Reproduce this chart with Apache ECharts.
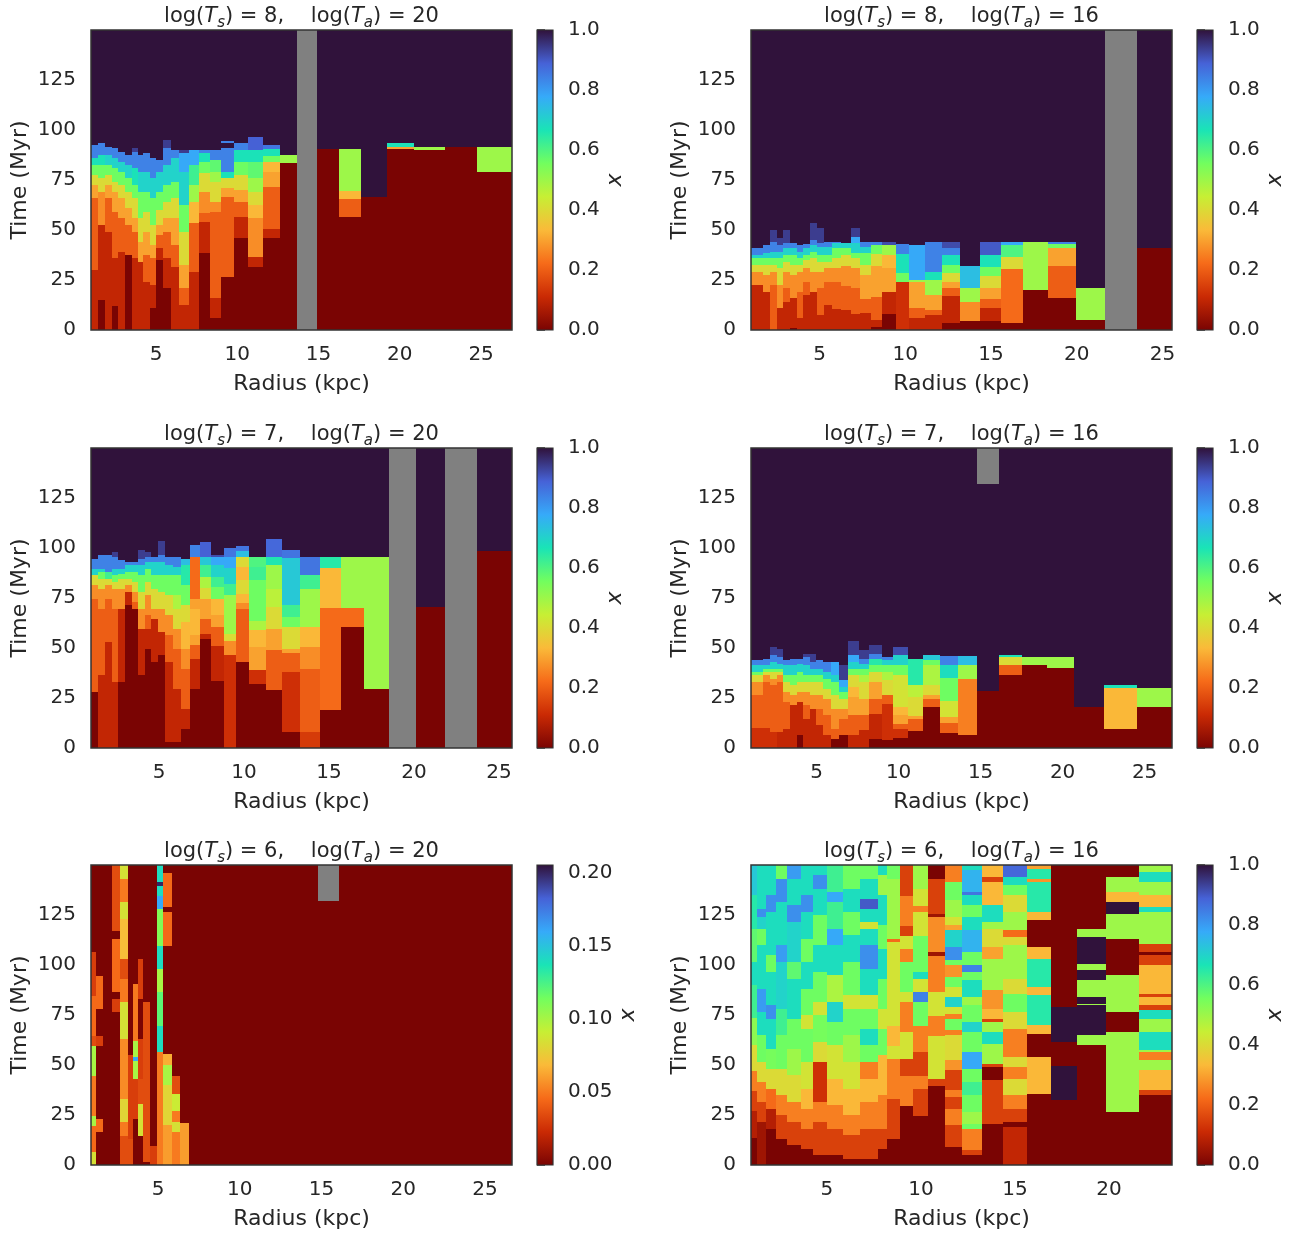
<!DOCTYPE html>
<html>
<head>
<meta charset="utf-8" />
<title>Ionised fraction vs radius and time</title>
<script src="https://cdn.jsdelivr.net/npm/echarts@6/dist/echarts.min.js"></script>
<style>html,body{margin:0;padding:0;background:#fff;}</style>
</head>
<body>
<div id="main" style="width:1297px;height:1237px;"></div>
<script type="text/javascript">
// Each column: [r0, r1, v0, t1, v1, t2, v2, ...]
// v0 holds from t=0 to t1, v1 from t1 to t2 ... last value up to the top. null = no data (grey).

// log(Ts)=8, log(Ta)=20
var colsA = [
  [1.0, 1.45, 0.1, 30, 0.2, 65.8, 0.3, 72.5, 0.4, 77.5, 0.56, 82.5, 0.67, 85.8, 0.84, 92.5, 1],
  [1.45, 1.86, 0, 15, 0.1, 52.5, 0.27, 69.2, 0.4, 75.8, 0.56, 82.5, 0.67, 87.5, 0.84, 93.3, 1],
  [1.86, 2.27, 0.1, 49, 0.2, 65.8, 0.3, 72.5, 0.4, 77.5, 0.56, 82.5, 0.7, 87.5, 0.84, 91.7, 1],
  [2.27, 2.68, 0, 12, 0.1, 35.8, 0.2, 59.2, 0.3, 69.2, 0.4, 74.2, 0.56, 80.8, 0.7, 85.8, 0.84, 90.8, 1],
  [2.68, 3.09, 0.1, 39.2, 0.2, 55.8, 0.3, 65.8, 0.4, 72.5, 0.56, 79.2, 0.7, 84.2, 0.84, 89.2, 1],
  [3.09, 3.5, 0, 37.5, 0.2, 52.5, 0.3, 60.8, 0.4, 69.2, 0.56, 75.8, 0.7, 82.5, 0.84, 87.5, 1],
  [3.5, 3.91, 0.1, 35.8, 0.2, 49.2, 0.3, 55.8, 0.4, 65.8, 0.56, 72.5, 0.67, 80.8, 0.84, 89.2, 0.94, 90.8, 1],
  [3.91, 4.22, 0.1, 34.2, 0.3, 44.2, 0.4, 55.8, 0.56, 69.2, 0.7, 79.2, 0.84, 87.5, 1],
  [4.22, 4.63, 0.1, 24.2, 0.2, 37.5, 0.3, 49.2, 0.4, 59.2, 0.56, 69.2, 0.7, 79.2, 0.84, 88.3, 1],
  [4.63, 4.98, 0, 10.8, 0.1, 22.5, 0.2, 35.8, 0.3, 42.5, 0.4, 52.5, 0.56, 65.8, 0.7, 75.8, 0.84, 85.8, 1],
  [4.98, 5.45, 0, 35, 0.1, 40.8, 0.2, 47.5, 0.3, 52.5, 0.4, 60, 0.56, 69.2, 0.7, 79.2, 0.84, 85, 1],
  [5.45, 5.92, 0, 20.8, 0.1, 35.8, 0.2, 49.2, 0.3, 55.8, 0.4, 64.2, 0.56, 72.5, 0.7, 82.5, 0.84, 90.8, 0.94, 95, 1],
  [5.92, 6.44, 0.1, 31.7, 0.2, 42.5, 0.3, 55.8, 0.4, 65.8, 0.56, 74.2, 0.7, 85.8, 0.84, 90, 1],
  [6.44, 7.05, 0.1, 12.5, 0.2, 20.8, 0.3, 32.5, 0.4, 49.2, 0.56, 62.5, 0.7, 79.2, 0.78, 88.3, 0.94, 90, 1],
  [7.05, 7.67, 0.1, 29.2, 0.2, 53.3, 0.33, 64.2, 0.5, 72.5, 0.62, 82.5, 0.78, 90, 1],
  [7.67, 8.32, 0, 38.3, 0.1, 54.2, 0.2, 58.3, 0.27, 69.2, 0.4, 78.3, 0.56, 84.2, 0.67, 88.3, 0.84, 90, 1],
  [8.32, 9.0, 0, 5.8, 0.1, 15.8, 0.2, 59.2, 0.27, 64.2, 0.4, 74.2, 0.5, 79.2, 0.58, 85, 0.84, 90, 1],
  [9.0, 9.82, 0, 26.7, 0.2, 66.7, 0.3, 70.8, 0.4, 76.2, 0.67, 79.2, 0.84, 90.8, 1, 93.3, 0.84, 94.5, 1],
  [9.82, 10.68, 0, 46.2, 0.1, 56.7, 0.2, 64.2, 0.3, 70, 0.4, 77.5, 0.56, 84.2, 0.67, 90, 0.84, 93.3, 1],
  [10.68, 11.6, 0, 31.3, 0.1, 36.3, 0.27, 55.8, 0.33, 62.5, 0.4, 69.2, 0.5, 75.8, 0.58, 84.2, 0.67, 90, 0.89, 96.7, 1],
  [11.6, 12.63, 0, 45.8, 0.1, 50.5, 0.2, 71.7, 0.3, 79.2, 0.33, 84.2, 0.56, 87.2, 0.67, 90.5, 0.86, 92.5, 1],
  [12.63, 13.7, 0, 83.7, 0.5, 87.5, 1],
  [13.7, 14.91, null],
  [14.91, 16.26, 0, 90.5, 1],
  [16.26, 17.64, 0, 56.7, 0.2, 65.3, 0.33, 69.7, 0.5, 90.5, 1],
  [17.64, 19.22, 0, 66.7, 1],
  [19.22, 20.9, 0, 90.5, 0.3, 91.5, 0.67, 93.7, 1],
  [20.9, 22.8, 0, 89.8, 0.5, 91.5, 1],
  [22.8, 24.77, 0, 91.7, 1],
  [24.77, 26.9, 0, 79, 0.5, 91.7, 1]
];

// log(Ts)=8, log(Ta)=16
var colsB = [
  [1.0, 1.72, 0.1, 22.5, 0.27, 29.2, 0.4, 32.5, 0.56, 35.8, 0.7, 37.5, 0.84, 40.8, 1],
  [1.72, 2.11, 0.1, 19.2, 0.27, 27.5, 0.4, 32.5, 0.56, 35.8, 0.7, 38.3, 0.84, 42.5, 1],
  [2.11, 2.5, 0.2, 22.5, 0.27, 29.2, 0.4, 32.5, 0.56, 35.8, 0.7, 39.2, 0.84, 44.2, 0.94, 50, 1],
  [2.5, 2.89, 0.1, 10.8, 0.27, 22.5, 0.4, 30.8, 0.56, 35.8, 0.7, 39.2, 0.84, 42.5, 0.94, 45.8, 1],
  [2.89, 3.27, 0.1, 14.2, 0.2, 20.8, 0.27, 29.2, 0.4, 34.2, 0.56, 37.5, 0.7, 40.8, 0.84, 43.3, 0.94, 50, 1],
  [3.27, 3.66, 0, 0.8, 0.1, 15.8, 0.27, 27.5, 0.4, 32.5, 0.56, 37.5, 0.7, 40.8, 0.84, 43.3, 1],
  [3.66, 4.05, 0.1, 5.8, 0.2, 19.2, 0.27, 29.2, 0.4, 32.5, 0.56, 35.8, 0.7, 39.2, 0.84, 42.5, 1],
  [4.05, 4.44, 0.1, 17.5, 0.2, 24.2, 0.27, 30.8, 0.4, 35, 0.56, 37.5, 0.7, 40.8, 0.84, 42.8, 1],
  [4.44, 4.83, 0.1, 19.2, 0.27, 29.2, 0.4, 35.8, 0.56, 39.2, 0.7, 42.5, 0.84, 45, 0.94, 53.3, 1],
  [4.83, 5.28, 0.1, 7.5, 0.2, 20.8, 0.27, 29.2, 0.4, 34.2, 0.56, 37.5, 0.7, 41.7, 0.84, 43.3, 0.94, 50.8, 1],
  [5.28, 5.74, 0.1, 12.5, 0.2, 24.2, 0.27, 30.8, 0.4, 34.2, 0.56, 37.5, 0.7, 41.7, 0.84, 44.2, 1],
  [5.74, 6.25, 0.1, 10.3, 0.2, 24.2, 0.27, 30.8, 0.4, 35.8, 0.56, 40.8, 0.7, 43.3, 0.84, 44.2, 1],
  [6.25, 6.83, 0.1, 10, 0.2, 22, 0.27, 32.2, 0.4, 37.5, 0.56, 40.8, 0.7, 43.3, 1],
  [6.83, 7.36, 0.1, 7.8, 0.2, 20.8, 0.27, 30.8, 0.4, 35.8, 0.56, 38.3, 0.7, 43.3, 0.78, 46.7, 0.94, 50.8, 1],
  [7.36, 8.0, 0.1, 8.3, 0.2, 15.5, 0.3, 27.5, 0.4, 32.5, 0.56, 38.3, 0.7, 41.7, 0.84, 44.2, 1],
  [8.0, 8.62, 0, 1.7, 0.1, 5, 0.2, 16.7, 0.3, 32.2, 0.4, 37.8, 0.56, 42.5, 0.84, 44.2, 1],
  [8.62, 9.45, 0, 7.8, 0.1, 19.2, 0.3, 30.8, 0.33, 37.5, 0.5, 42.5, 0.92, 44.2, 1],
  [9.45, 10.23, 0.12, 24.2, 0.56, 28.3, 0.67, 37.8, 0.84, 42.8, 1],
  [10.23, 11.15, 0.1, 5.8, 0.2, 11.2, 0.3, 23.8, 0.5, 25, 0.78, 42.5, 1],
  [11.15, 12.12, 0.1, 7.5, 0.2, 10, 0.3, 17.5, 0.5, 25, 0.67, 29.2, 0.84, 44.2, 1],
  [12.12, 13.19, 0, 3.3, 0.1, 17.2, 0.2, 20.8, 0.3, 24.2, 0.4, 28.3, 0.56, 32.5, 0.67, 37.5, 0.84, 41.2, 0.92, 44.2, 1],
  [13.19, 14.35, 0, 4.5, 0.27, 14.2, 0.5, 20.8, 0.74, 32.2, 1],
  [14.35, 15.56, 0, 4.5, 0.1, 10.8, 0.2, 15.5, 0.3, 20.8, 0.4, 27.2, 0.56, 31.7, 0.67, 37.5, 0.9, 44.2, 1],
  [15.56, 16.84, 0, 3.3, 0.22, 30.3, 0.4, 36.3, 0.6, 42.5, 0.78, 44.2, 1],
  [16.84, 18.34, 0, 20, 0.5, 44.2, 1],
  [18.34, 19.93, 0, 15.8, 0.2, 32.2, 0.3, 41.2, 0.56, 42.8, 0.84, 44.2, 1],
  [19.93, 21.64, 0, 5, 0.5, 20.8, 1],
  [21.64, 23.53, null],
  [23.53, 25.55, 0, 41.2, 1]
];

// log(Ts)=7, log(Ta)=20
var colsC = [
  [1.0, 1.43, 0, 28, 0.2, 74.7, 0.27, 81.3, 0.4, 86.3, 0.7, 89.7, 0.84, 94.7, 1],
  [1.43, 1.82, 0.1, 36.3, 0.2, 69.7, 0.27, 79.7, 0.4, 84.7, 0.56, 88, 0.7, 89.7, 0.84, 96.3, 1],
  [1.82, 2.22, 0.1, 53, 0.2, 74.7, 0.27, 81.3, 0.4, 84.7, 0.62, 88, 0.84, 96.3, 1],
  [2.22, 2.61, 0.1, 33, 0.2, 69.7, 0.27, 79.7, 0.4, 83, 0.56, 86.3, 0.7, 89.7, 0.84, 95.5, 0.94, 98, 1],
  [2.61, 3.0, 0, 33, 0.1, 69.7, 0.27, 79.7, 0.4, 84.7, 0.56, 87.2, 0.7, 89.7, 0.84, 93.8, 1],
  [3.0, 3.39, 0, 71.3, 0.1, 78, 0.27, 81.3, 0.4, 84.7, 0.56, 88, 0.7, 91.3, 0.84, 93, 1],
  [3.39, 3.78, 0, 69.7, 0.2, 73, 0.27, 78, 0.4, 83, 0.56, 88, 0.7, 91.3, 0.84, 93, 1],
  [3.78, 4.18, 0, 36.3, 0.1, 59.7, 0.27, 69.7, 0.4, 78, 0.56, 86.3, 0.7, 91.3, 0.84, 94.7, 0.94, 98.8, 1],
  [4.18, 4.53, 0, 49.7, 0.1, 59.7, 0.2, 66.3, 0.27, 76.3, 0.4, 83, 0.56, 89.7, 0.7, 93, 0.84, 95.5, 0.94, 98, 1],
  [4.53, 4.92, 0, 43, 0.1, 64.7, 0.27, 69.7, 0.4, 79.7, 0.56, 86.3, 0.7, 93, 0.84, 95.5, 1],
  [4.92, 5.35, 0, 46.3, 0.1, 58, 0.27, 69.7, 0.4, 78, 0.56, 86.3, 0.7, 93, 0.84, 96.3, 0.94, 103.3, 1],
  [5.35, 5.84, 0, 3, 0.1, 43, 0.2, 56.3, 0.27, 66.3, 0.4, 76.3, 0.56, 86.3, 0.7, 91.3, 0.84, 95.5, 1],
  [5.84, 6.29, 0, 3, 0.1, 29.7, 0.2, 49.7, 0.27, 59.7, 0.4, 69.7, 0.48, 76.3, 0.56, 86.3, 0.7, 90.5, 0.84, 95.5, 1],
  [6.29, 6.82, 0, 9.7, 0.1, 19.7, 0.2, 39.7, 0.27, 49.7, 0.33, 63, 0.4, 71.3, 0.56, 81.3, 0.65, 91.3, 0.74, 94.7, 1],
  [6.82, 7.41, 0, 29.7, 0.1, 44.7, 0.2, 51.3, 0.3, 56.3, 0.33, 69.7, 0.3, 74.7, 0.22, 95.5, 0.84, 101.3, 1],
  [7.41, 8.06, 0, 54.7, 0.1, 57.2, 0.2, 64.3, 0.3, 74.7, 0.4, 80, 0.48, 85.5, 0.62, 91.3, 0.72, 95.5, 0.89, 103, 1],
  [8.06, 8.84, 0, 33.3, 0.1, 51, 0.2, 60.5, 0.3, 66.7, 0.33, 74.7, 0.56, 80.5, 0.62, 85.5, 0.7, 91.3, 0.78, 95.5, 0.92, 96.3, 1],
  [8.84, 9.53, 0.12, 46.7, 0.27, 53.3, 0.4, 57.2, 0.5, 76.3, 0.62, 82.2, 0.7, 90, 0.78, 95.5, 0.86, 100, 1],
  [9.53, 10.31, 0, 43, 0.2, 69.7, 0.27, 72.5, 0.33, 77.2, 0.4, 83.8, 0.33, 90.5, 0.4, 95.5, 0.74, 98.3, 0.86, 101, 1],
  [10.31, 11.29, 0, 32.2, 0.12, 38.8, 0.3, 50.5, 0.33, 58.8, 0.48, 63.3, 0.56, 83.8, 0.62, 90.5, 0.6, 95.5, 1],
  [11.29, 12.22, 0, 28.8, 0.2, 48.8, 0.3, 59.7, 0.4, 70.5, 0.46, 79.7, 0.5, 91.7, 0.66, 95.5, 0.88, 104.7, 1],
  [12.22, 13.29, 0, 8, 0.12, 38, 0.2, 47.7, 0.3, 49.3, 0.4, 60.5, 0.56, 65.5, 0.62, 71.3, 0.72, 95, 0.86, 98.8, 1],
  [13.29, 14.47, 0.14, 8, 0.2, 39.7, 0.27, 50.5, 0.33, 60.5, 0.5, 79.7, 0.62, 86.7, 0.86, 95.5, 1],
  [14.47, 15.69, 0, 18.8, 0.22, 70, 0.33, 90, 0.65, 95.5, 1],
  [15.69, 17.04, 0, 60.5, 0.22, 70, 0.5, 95.5, 1],
  [17.04, 18.5, 0, 29.7, 0.5, 95.5, 1],
  [18.5, 20.1, null],
  [20.1, 21.82, 0, 70.5, 1],
  [21.82, 23.73, null],
  [23.73, 25.76, 0, 98.3, 1]
];

// log(Ts)=7, log(Ta)=16
var colsD = [
  [1.0, 1.75, 0.12, 10, 0.2, 26.3, 0.27, 33, 0.4, 36.3, 0.56, 38, 0.7, 41.3, 0.84, 43.8, 1],
  [1.75, 2.16, 0.12, 10, 0.2, 33, 0.27, 36.3, 0.4, 38, 0.56, 39.7, 0.7, 41.3, 0.84, 44.7, 1],
  [2.16, 2.56, 0.12, 8, 0.2, 31.3, 0.27, 34.7, 0.4, 38, 0.56, 39.7, 0.7, 43, 0.84, 46.3, 0.94, 50.5, 1],
  [2.56, 2.97, 0.1, 8, 0.2, 33, 0.27, 36.3, 0.4, 38, 0.56, 39.7, 0.7, 42.2, 0.84, 45.5, 0.94, 49.7, 1],
  [2.97, 3.38, 0.1, 9.7, 0.2, 23, 0.27, 28, 0.4, 33, 0.56, 36.3, 0.7, 41.3, 0.84, 43.8, 1],
  [3.38, 3.78, 0.1, 21.3, 0.27, 26.3, 0.4, 31.3, 0.56, 36.3, 0.7, 41.3, 0.84, 44.7, 1],
  [3.78, 4.19, 0, 6.3, 0.1, 23, 0.27, 28, 0.4, 33, 0.56, 38, 0.7, 42.2, 0.84, 44.7, 1],
  [4.19, 4.6, 0.1, 14.7, 0.2, 21.3, 0.27, 28, 0.4, 33, 0.56, 36.3, 0.7, 41.3, 0.84, 45.5, 0.94, 47.2, 1],
  [4.6, 4.94, 0.1, 19.7, 0.27, 26.3, 0.4, 33, 0.56, 36.3, 0.7, 39.7, 0.84, 43, 0.94, 47.2, 1],
  [4.94, 5.41, 0.1, 11.3, 0.2, 19.7, 0.27, 26.3, 0.4, 33, 0.56, 36.3, 0.7, 39.7, 0.84, 43.8, 1],
  [5.41, 5.88, 0.1, 6.3, 0.2, 16.3, 0.27, 24.7, 0.4, 29.7, 0.56, 34.7, 0.7, 38, 0.84, 43, 1],
  [5.88, 6.39, 0, 4.7, 0.2, 9.7, 0.27, 19.7, 0.4, 26.3, 0.56, 33, 0.7, 36.3, 0.78, 43, 1],
  [6.39, 6.93, 0, 6.3, 0.2, 14.7, 0.27, 19.7, 0.4, 24.7, 0.56, 28, 0.7, 30.5, 0.78, 33.8, 0.94, 41.3, 1],
  [6.93, 7.59, 0.1, 6.3, 0.2, 16.3, 0.3, 25.5, 0.33, 30.5, 0.4, 36.3, 0.56, 39.7, 0.7, 43, 0.78, 46.3, 0.94, 53.5, 1],
  [7.59, 8.2, 0.1, 8.8, 0.2, 16.3, 0.3, 24.7, 0.4, 33, 0.48, 36.3, 0.56, 39.7, 0.7, 42.2, 0.84, 44.7, 0.94, 48.8, 1],
  [8.2, 8.97, 0, 4.7, 0.1, 17.2, 0.2, 24.7, 0.3, 33, 0.4, 38, 0.56, 41.7, 0.65, 44.7, 0.84, 47.2, 0.94, 51.3, 1],
  [8.97, 9.68, 0, 3.8, 0.12, 22.2, 0.2, 26.3, 0.4, 33.8, 0.48, 38, 0.56, 41.7, 0.7, 43.8, 0.84, 45.5, 1],
  [9.68, 10.6, 0, 5, 0.12, 9.7, 0.2, 12.2, 0.3, 16.3, 0.33, 20.5, 0.42, 36.3, 0.56, 41.3, 0.7, 46.3, 0.92, 50.5, 1],
  [10.6, 11.5, 0, 8.3, 0.2, 14.7, 0.3, 15.8, 0.4, 25.5, 0.46, 31.7, 0.65, 44.7, 1],
  [11.5, 12.52, 0, 20.5, 0.2, 24.3, 0.3, 26.3, 0.4, 31.7, 0.48, 41.7, 0.56, 43.8, 0.72, 46.3, 1],
  [12.52, 13.6, 0, 7.5, 0.2, 12.5, 0.3, 15.5, 0.42, 23.5, 0.56, 35.2, 0.68, 41.7, 0.84, 45.8, 1],
  [13.6, 14.8, 0, 6.3, 0.25, 34.7, 0.5, 41.7, 0.74, 45.8, 1],
  [14.8, 16.12, 0, 28.5, 1, 132.2, null],
  [16.12, 17.5, 0, 36.7, 0.2, 41.3, 0.4, 45.5, 0.67, 46.3, 1],
  [17.5, 19.05, 0, 41.3, 0.5, 45.5, 1],
  [19.05, 20.72, 0, 40.2, 0.5, 45.5, 1],
  [20.72, 22.52, 0, 20.5, 1],
  [22.52, 24.56, 0, 9.7, 0.33, 30.2, 0.67, 31.7, 1],
  [24.56, 26.67, 0, 20.5, 0.5, 30.2, 1]
];

// log(Ts)=6, log(Ta)=20  (colour scale 0 - 0.2055)
var colsE = [
  [0.9, 1.2, 0.085, 6.3, 0.045, 19.7, 0.1, 24.7, 0.05, 44.7, 0.1, 59.7, 0.035, 64.7, 0.045, 84.7, 0.03, 106.3, 0],
  [1.2, 1.65, 0, 16.3, 0.045, 23, 0, 59.7, 0.03, 64.7, 0, 78, 0.045, 94.7, 0],
  [1.65, 2.2, 0],
  [2.2, 2.67, 0, 76.3, 0.03, 83, 0, 86.3, 0.045, 113, 0, 117.2, 0.035],
  [2.67, 3.18, 0.035, 14.7, 0.05, 21.3, 0.08, 33, 0.055, 63, 0.085, 81.3, 0.05, 93, 0.035, 103, 0.07, 123, 0.085, 131.3, 0.05, 143, 0.085],
  [3.18, 3.49, 0.035, 13, 0.03, 55, 0],
  [3.49, 3.8, 0, 23, 0.03, 43, 0.1, 52, 0.16, 54, 0.1, 62.2, 0.05, 90.5, 0],
  [3.8, 4.1, 0, 14.7, 0.085, 30.5, 0.035, 43, 0.03, 63, 0, 83, 0.03, 103, 0],
  [4.1, 4.51, 0, 1.3, 0.035, 81.3, 0],
  [4.51, 4.92, 0.03, 9.7, 0],
  [4.92, 5.32, 0.05, 56.3, 0.14, 69.7, 0.12, 86.3, 0.1, 98, 0.14, 109.7, 0.11, 128, 0.16, 134.7, 0.14, 139.7, 0.2, 141.5, 0.14],
  [5.32, 5.83, 0.06, 20, 0.08, 40, 0.1, 50, 0.065, 55.5, 0, 109.7, 0.045, 126.7, 0, 128.8, 0.045, 146, 0],
  [5.83, 6.34, 0.05, 16.3, 0.085, 21.3, 0.05, 27.2, 0.09, 35.5, 0.035, 44.7, 0],
  [6.34, 6.89, 0.06, 20.8, 0],
  [6.89, 14.78, 0],
  [14.78, 16.07, 0, 132, null],
  [16.07, 26.65, 0]
];

// log(Ts)=6, log(Ta)=16
var colsF = [
  [0.96, 1.3, 0, 13.5, 0.08, 27, 0.15, 37, 0.25, 47, 0.4, 60, 0.52, 73.5, 0.62, 90, 0.68, 101.5, 0.58, 118, 0.65, 135, 0.72],
  [1.3, 1.75, 0.05, 21.5, 0.15, 31.5, 0.25, 41.5, 0.4, 51.5, 0.56, 64.8, 0.68, 76.5, 0.8, 88.2, 0.68, 109.8, 0.56, 118.2, 0.7, 124, 0.82, 128, 0.68],
  [1.75, 2.3, 0, 18.2, 0.08, 28.2, 0.22, 38.2, 0.4, 48.2, 0.55, 58.2, 0.68, 73.2, 0.82, 79.8, 0.68, 96.5, 0.56, 104.8, 0.68, 126.5, 0.82, 134.8, 0.68],
  [2.3, 2.9, 0, 13.2, 0.15, 24.8, 0.25, 34.8, 0.4, 48.2, 0.56, 64.8, 0.62, 78.2, 0.7, 101.5, 0.8, 109.8, 0.68, 131.5, 0.82, 143.2, 0.56],
  [2.9, 3.6, 0, 9.8, 0.15, 21.5, 0.25, 31.5, 0.4, 44.8, 0.5, 58.2, 0.56, 73.2, 0.68, 93.2, 0.58, 101.5, 0.7, 121.5, 0.82, 129.8, 0.68, 143.2, 0.8],
  [3.6, 4.25, 0, 8.2, 0.15, 18.2, 0.25, 28.2, 0.33, 38.2, 0.42, 51.5, 0.56, 68.2, 0.42, 74.8, 0.56, 88.2, 0.68, 101.5, 0.56, 113.2, 0.68, 126.5, 0.82, 134.8, 0.68],
  [4.25, 5.0, 0, 4.8, 0.15, 21.5, 0.25, 31.5, 0.12, 51.5, 0.4, 61.5, 0.55, 74.8, 0.42, 81.5, 0.56, 96.5, 0.68, 109.8, 0.56, 124.8, 0.68, 138.2, 0.82, 144.8, 0.68],
  [5.0, 5.85, 0, 4.8, 0.15, 18.2, 0.25, 29.8, 0.33, 43.2, 0.42, 59.8, 0.56, 71.5, 0.7, 81.5, 0.48, 94.8, 0.68, 109.8, 0.78, 118.2, 0.62, 131.5, 0.78, 136.5, 0.62],
  [5.85, 6.75, 0, 3.2, 0.15, 14.8, 0.25, 24.8, 0.33, 38.2, 0.42, 51.5, 0.5, 64.8, 0.56, 78.2, 0.42, 84.8, 0.56, 101.5, 0.68, 114.8, 0.56, 126.5, 0.68, 138.2, 0.56],
  [6.75, 7.7, 0, 3.2, 0.15, 18.2, 0.25, 31.5, 0.33, 43.2, 0.25, 51.5, 0.56, 59.8, 0.68, 68.2, 0.56, 78.2, 0.42, 84.8, 0.68, 98.2, 0.82, 109.8, 0.68, 118.2, 0.42, 121.5, 0.68, 128, 0.9, 133.2, 0.68, 143.2, 0.56],
  [7.7, 8.18, 0, 8.2, 0.15, 18.2, 0.25, 34.8, 0.33, 54.8, 0.56, 68.2, 0.42, 78.2, 0.56, 93.2, 0.68, 108.2, 0.56, 119.8, 0.68, 134.8, 0.5, 144.8, 0.68],
  [8.18, 8.89, 0, 13, 0.15, 33, 0.25, 53, 0.42, 59.7, 0.33, 69.7, 0.42, 111.3, 0.22, 113, 0.5, 143, 0.56],
  [8.89, 9.6, 0, 29.7, 0.25, 44.7, 0.15, 53, 0.42, 66.3, 0.25, 81.3, 0.42, 86.3, 0.56, 101.3, 0.25, 108, 0.42, 114.7, 0.15, 119.7, 0.25, 134.7, 0.15],
  [9.6, 10.36, 0, 24.7, 0.15, 38, 0.25, 44.7, 0.15, 56.3, 0.25, 69.7, 0.56, 81.3, 0.84, 86.3, 0.42, 93, 0.68, 96.3, 0.56, 114.7, 0.42, 126.3, 0.25, 129.7, 0.42, 138, 0.5],
  [10.36, 11.28, 0, 39.7, 0.15, 43, 0.42, 64.7, 0.25, 74.7, 0.42, 86.3, 0.25, 104.7, 0.05, 106.3, 0.27, 123.8, 0.05, 125.5, 0.15, 143, 0],
  [11.28, 12.2, 0, 9, 0.15, 19.8, 0.25, 28.2, 0.15, 34, 0.25, 37.3, 0.15, 47.3, 0.28, 52.3, 0.4, 64.8, 0.25, 67.3, 0.56, 73.2, 0.25, 75.7, 0.42, 79, 0.7, 84, 0.42, 89, 0.56, 94, 0.28, 99.8, 0.56, 102.3, 0.82, 109, 0.7, 117.3, 0.3, 119.8, 0.42, 124, 0.5, 132.3, 0.56, 141.5, 0.25],
  [12.2, 13.27, 0, 4.8, 0.15, 7.3, 0.25, 18.2, 0.56, 20.7, 0.5, 26.5, 0.56, 34.8, 0.62, 41.5, 0.56, 48.2, 0.78, 56.5, 0.56, 66.5, 0.7, 71.5, 0.56, 79.8, 0.5, 84, 0.68, 92.3, 0.56, 96.5, 0.84, 99.8, 0.56, 106.5, 0.76, 117.3, 0.68, 124, 0.56, 129.8, 0.68, 134.8, 0.86, 136.5, 0.76, 147.3, 0.68],
  [13.27, 14.35, 0, 20.7, 0.15, 42.3, 0, 49, 0.15, 50.7, 0.5, 60.7, 0.68, 66.5, 0.5, 71.5, 0.15, 73.2, 0.33, 78.2, 0.28, 87.3, 0.5, 103.2, 0.3, 109, 0.4, 118.2, 0.5, 121.5, 0.68, 130, 0.33, 141.5, 0.15, 144, 0.33],
  [14.35, 15.62, 0.1, 19, 0, 21.5, 0.15, 28.2, 0.25, 34.8, 0.4, 43.2, 0.25, 49, 0.4, 54, 0.25, 68.2, 0.4, 76.5, 0.56, 85.7, 0.4, 93.2, 0.5, 109.8, 0.4, 114, 0.22, 117.3, 0.5, 126.5, 0.4, 134.8, 0.56, 139.8, 0.68, 144, 0.88],
  [15.62, 16.92, 0, 35.7, 0.33, 54, 0, 65.7, 0.33, 69.8, 0.65, 84.8, 0.33, 89, 0.65, 103.2, 0.33, 109, 0, 122.3, 0.33, 126.5, 0.65, 141.5, 0.28, 143.2, 0.65, 148.2, 0.3],
  [16.92, 18.28, 0, 32.3, 1, 49.5, 0, 61.5, 1, 79, 0],
  [18.28, 19.84, 0, 59.8, 0.5, 64.8, 1, 79.8, 0.5, 80.7, 1, 84, 0.5, 92.3, 1, 97.3, 0.5, 100.7, 1, 114, 0.5, 118.2, 0],
  [19.84, 21.6, 0, 26.5, 0.5, 66.5, 0, 76.5, 0.5, 94.8, 0, 113.2, 0.5, 125.7, 1, 131.5, 0.33, 136.5, 0.5, 144, 0],
  [21.6, 23.35, 0, 34.8, 0.15, 37.3, 0.33, 47.3, 0.5, 52.3, 0.25, 56.5, 0.5, 57.3, 0.68, 66.5, 0.5, 73.2, 0.68, 77.3, 0.15, 79.8, 0.33, 84, 0.15, 85.7, 0.33, 99.8, 0.15, 104.8, 0, 106.5, 0.15, 110.7, 0.5, 126.5, 0.68, 129, 0.33, 134.8, 0.5, 141.5, 0.68, 146.5, 0.5]
];

var panelCols = [colsA, colsB, colsC, colsD, colsE, colsF];
var logTs = [8, 8, 7, 7, 6, 6];
var logTa = [20, 16, 20, 16, 20, 16];
var xMax = [1, 1, 1, 1, 0.2055, 1];          // top of each colour bar
var timeTop = 150;
var timeTicks = [0, 25, 50, 75, 100, 125];
var radiusTicks = [5, 10, 15, 20, 25];
var xTicks = [0, 0.2, 0.4, 0.6, 0.8, 1.0];
var xTicksSmall = [0, 0.05, 0.10, 0.15, 0.20];

// turbo colormap, reversed (0 -> dark red, 1 -> dark purple)
var TURBO_R = ['#7a0403', '#ca2a04', '#f66b19', '#faba39', '#c7ef34',
               '#72fe5e', '#1ae4b6', '#36aaf9', '#4662d7', '#30123b'];

// layout
var FONT = 'DejaVu Sans';
var INK = '#262626';
var FRAME = '#333333';
var plotLeft = [91, 751, 91, 751, 91, 751];
var plotTop = [30, 30, 448, 448, 865, 865];
var PLOT_W = 421, PLOT_H = 300;
var CBAR_OFF = 25, CBAR_W = 16;

function toCells(cols) {
  var out = [];
  cols.forEach(function (c) {
    var t0 = 0;
    for (var i = 2; i < c.length; i += 2) {
      var t1 = (i + 1 < c.length) ? c[i + 1] : timeTop;
      var v = c[i];
      out.push([c[0], c[1], t0, t1, v === null ? -1 : v]);
      t0 = t1;
    }
  });
  return out;
}

function renderCell(params, api) {
  var p0 = api.coord([api.value(0), api.value(2)]);
  var p1 = api.coord([api.value(1), api.value(3)]);
  var x0 = Math.round(p0[0]), x1 = Math.round(p1[0]);
  var yb = Math.round(p0[1]), yt = Math.round(p1[1]);
  var v = api.value(4);
  return {
    type: 'rect',
    shape: { x: x0, y: yt, width: x1 - x0, height: yb - yt },
    style: { fill: v < 0 ? '#808080' : api.visual('color') }
  };
}

var gradient = {
  type: 'linear', x: 0, y: 1, x2: 0, y2: 0,
  colorStops: TURBO_R.map(function (c, k) { return { offset: k / (TURBO_R.length - 1), color: c }; })
};

function renderBar(params, api) {
  var cs = params.coordSys;
  return { type: 'rect', shape: { x: cs.x, y: cs.y, width: cs.width, height: cs.height }, style: { fill: gradient } };
}

var grids = [], xAxes = [], yAxes = [], series = [], visualMaps = [], titles = [];

// heatmap panels
for (var i = 0; i < 6; i++) {
  var cols = panelCols[i];
  var rMin = cols[0][0], rMax = cols[cols.length - 1][1];
  grids.push({ left: plotLeft[i], top: plotTop[i], width: PLOT_W, height: PLOT_H,
    show: true, z: 10, backgroundColor: 'transparent', borderColor: FRAME, borderWidth: 1.5 });
  xAxes.push({
    gridIndex: i, type: 'value', min: rMin, max: rMax,
    axisLine: { show: false }, axisTick: { show: false }, splitLine: { show: false },
    axisLabel: { customValues: radiusTicks.filter(function (v) { return v <= rMax; }), margin: 15, fontSize: 20, color: INK, fontFamily: FONT },
    name: 'Radius (kpc)', nameLocation: 'middle', nameGap: 42,
    nameTextStyle: { fontSize: 22, lineHeight: 24, color: INK, fontFamily: FONT }
  });
  yAxes.push({
    gridIndex: i, type: 'value', min: 0, max: timeTop,
    axisLine: { show: false }, axisTick: { show: false }, splitLine: { show: false },
    axisLabel: { customValues: timeTicks, margin: 15, fontSize: 20, color: INK, fontFamily: FONT },
    name: 'Time (Myr)', nameLocation: 'middle', nameGap: 59,
    nameTextStyle: { fontSize: 22, lineHeight: 24, color: INK, fontFamily: FONT }
  });
  series.push({
    type: 'custom', coordinateSystem: 'cartesian2d', xAxisIndex: i, yAxisIndex: i,
    data: toCells(cols), encode: { x: [0, 1], y: [2, 3] },
    renderItem: renderCell, silent: true, z: 1
  });
  visualMaps.push({
    type: 'continuous', show: false, seriesIndex: i, dimension: 4,
    min: 0, max: xMax[i],
    inRange: { color: TURBO_R }, outOfRange: { color: '#808080' }
  });
  titles.push({
    text: 'log({it|T}{sub|s}) = ' + logTs[i] + ',    log({it|T}{sub|a}) = ' + logTa[i],
    left: plotLeft[i] + PLOT_W / 2, top: plotTop[i] - 27, textAlign: 'center', padding: 0,
    textStyle: {
      fontSize: 21, fontWeight: 'normal', color: INK, fontFamily: FONT, lineHeight: 28,
      rich: {
        it: { fontStyle: 'italic', fontSize: 21, color: INK, fontFamily: FONT, lineHeight: 28 },
        sub: { fontStyle: 'italic', fontSize: 15, color: INK, fontFamily: FONT, lineHeight: 28, verticalAlign: 'bottom' }
      }
    }
  });
}

// colour bars
for (var j = 0; j < 6; j++) {
  var g = 6 + j;
  var small = xMax[j] < 0.5;
  grids.push({ left: plotLeft[j] + PLOT_W + CBAR_OFF, top: plotTop[j], width: CBAR_W, height: PLOT_H,
    show: true, z: 10, backgroundColor: 'transparent', borderColor: FRAME, borderWidth: 1.2 });
  xAxes.push({ gridIndex: g, type: 'value', min: 0, max: 1, show: false });
  yAxes.push({
    gridIndex: g, type: 'value', position: 'right', min: 0, max: xMax[j],
    axisLine: { show: false }, splitLine: { show: false },
    axisTick: { show: true, customValues: small ? xTicksSmall : xTicks, length: 8, lineStyle: { color: FRAME, width: 1.5 } },
    axisLabel: {
      customValues: small ? xTicksSmall : xTicks, margin: 15, fontSize: 20, color: INK, fontFamily: FONT,
      formatter: small ? function (v) { return v.toFixed(2); } : function (v) { return v.toFixed(1); }
    },
    name: 'x', nameLocation: 'middle', nameGap: 50, nameRotate: 90,
    nameTextStyle: { fontSize: 22, fontStyle: 'italic', lineHeight: 24, color: INK, fontFamily: FONT }
  });
  series.push({
    type: 'custom', coordinateSystem: 'cartesian2d', xAxisIndex: g, yAxisIndex: g,
    data: [[0, 0]], renderItem: renderBar, silent: true, z: 1
  });
}

var myChart = echarts.init(document.getElementById('main'), null, { renderer: 'canvas' });
myChart.setOption({
  backgroundColor: '#ffffff',
  animation: false,
  title: titles,
  grid: grids,
  xAxis: xAxes,
  yAxis: yAxes,
  visualMap: visualMaps,
  series: series
});
</script>
</body>
</html>
